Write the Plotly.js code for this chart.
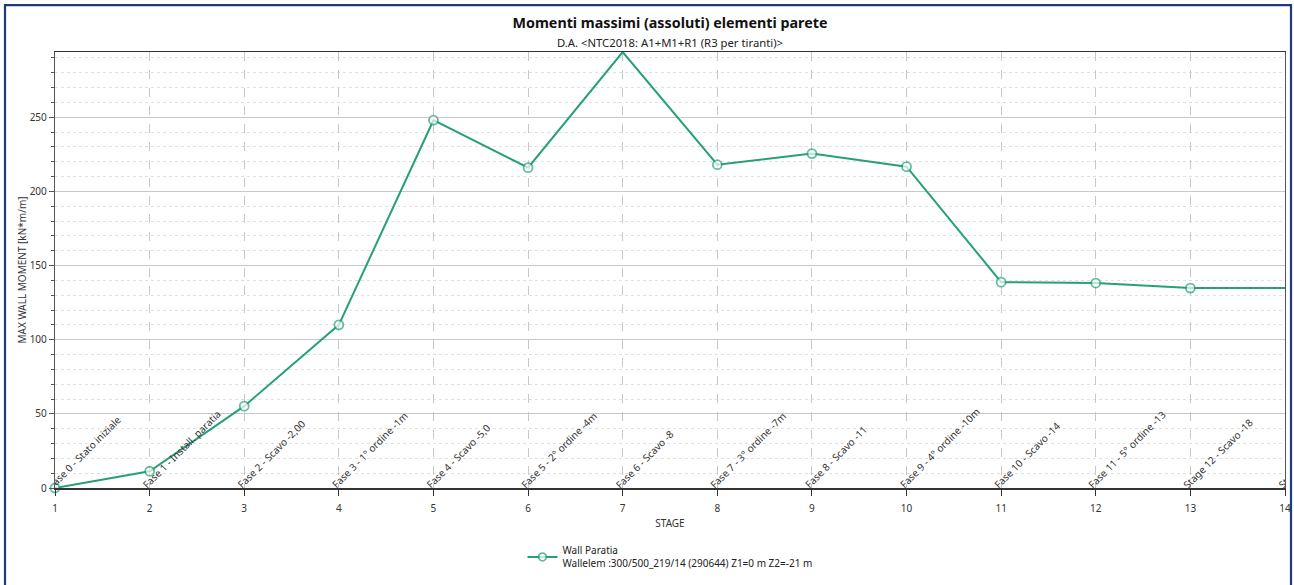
<!DOCTYPE html>
<html>
<head>
<meta charset="utf-8">
<script src="https://cdn.plot.ly/plotly-3.0.1.min.js"></script>
<style>
  html, body { margin: 0; padding: 0; background: #ffffff; }
  #chart { width: 1294px; height: 585px; }
</style>
</head>
<body>
<div id="chart"></div>
<script>
// Construction stages (x) and the maximum absolute wall moment at each stage [kN*m/m]
const stages = [1, 2, 3, 4, 5, 6, 7, 8, 9, 10, 11, 12, 13, 14];
const maxMoment = [0, 11.3, 55.2, 110, 248, 216, 294, 218, 225.5, 216.7, 138.8, 138.2, 134.8, 134.8];

// Phase description written along each stage gridline
const stageLabels = [
  'Fase 0 - Stato iniziale',
  'Fase 1 - Install. paratia',
  'Fase 2 - Scavo -2,00',
  'Fase 3 - 1° ordine -1m',
  'Fase 4 - Scavo -5,0',
  'Fase 5 - 2° ordine -4m',
  'Fase 6 - Scavo -8',
  'Fase 7 - 3° ordine -7m',
  'Fase 8 - Scavo -11',
  'Fase 9 - 4° ordine -10m',
  'Fase 10 - Scavo -14',
  'Fase 11 - 5° ordine -13',
  'Stage 12 - Scavo -18',
  'Stage 13'
];

const seriesName = 'Wall Paratia<br>Wallelem :300/500_219/14 (290644) Z1=0 m Z2=-21 m';
const chartTitle = 'Momenti massimi (assoluti) elementi parete';
const chartSubtitle = 'D.A. &lt;NTC2018: A1+M1+R1 (R3 per tiranti)&gt;';

const FONT = '"Noto Sans", "Open Sans", Arial, sans-serif';
const GREEN = '#27a07a';
const NAVY = '#1c3a7c';

const xMax = stages[stages.length - 1];
const yMax = Math.max(...maxMoment);

// Points lying on the frame edges are drawn without a marker
const markerSizes = stages.map((s, i) => (s === xMax || maxMoment[i] === yMax) ? 0 : 9);

const M = { l: 55, r: 9, t: 52, b: 92 };
const W = 1294, H = 585;
const plotW = W - M.l - M.r, plotH = H - M.t - M.b;
const px2x = px => (px - M.l) / plotW;
const px2y = py => (H - M.b - py) / plotH;

const trace = {
  type: 'scatter',
  mode: 'lines+markers',
  x: stages,
  y: maxMoment,
  name: seriesName,
  cliponaxis: false,
  line: { color: GREEN, width: 2 },
  marker: {
    symbol: 'circle',
    size: markerSizes,
    color: '#ffffff',
    line: { color: GREEN, width: 1.8 }
  },
  showlegend: true
};

const annotations = stageLabels.map((t, i) => ({
  x: stages[i], y: 0, xref: 'x', yref: 'y',
  text: t, textangle: -45,
  xanchor: 'left', yanchor: 'bottom',
  xshift: -13, yshift: -6,
  showarrow: false,
  font: { family: FONT, size: 10, color: '#333333' }
}));

const layout = {
  width: W, height: H,
  margin: M,
  paper_bgcolor: '#ffffff',
  plot_bgcolor: '#ffffff',
  font: { family: FONT, size: 10, color: '#333333' },
  title: {
    text: '<b>' + chartTitle + '</b><br><span style="font-size:11.3px;color:#222222">' + chartSubtitle + '</span>',
    font: { family: FONT, size: 14.3, color: '#111111' },
    xref: 'paper', x: 0.5, xanchor: 'center',
    yref: 'container', y: 1 - 28 / H, yanchor: 'top'
  },
  xaxis: {
    range: [1, xMax],
    dtick: 1, tick0: 1,
    showgrid: true, gridcolor: '#c8c8c8', griddash: 'dash', gridwidth: 1,
    zeroline: false,
    showline: true, linecolor: '#333333', linewidth: 1.5, mirror: true,
    ticks: 'outside', ticklen: 6, tickcolor: '#333333',
    ticklabelstandoff: 4,
    tickfont: { family: FONT, size: 10, color: '#333333' },
    title: { text: 'STAGE', font: { family: FONT, size: 10, color: '#333333' }, standoff: 6 }
  },
  yaxis: {
    range: [0, yMax],
    dtick: 50, tick0: 0,
    showgrid: true, gridcolor: '#c8c8c8', gridwidth: 1,
    zeroline: false,
    showline: true, linecolor: '#555555', linewidth: 1.2, mirror: true,
    ticks: 'outside', ticklen: 5, tickcolor: '#555555',
    tickfont: { family: FONT, size: 10, color: '#333333' },
    minor: {
      dtick: 10, showgrid: true, gridcolor: '#e0e0e0', griddash: 'dot', gridwidth: 1,
      ticks: 'outside', ticklen: 3, tickcolor: '#555555'
    },
    title: { text: 'MAX WALL MOMENT [kN*m/m]', font: { family: FONT, size: 10, color: '#333333' }, standoff: 1 }
  },
  legend: {
    orientation: 'h',
    x: 0.5, xanchor: 'center', xref: 'paper',
    y: px2y(543), yanchor: 'top',
    bgcolor: 'rgba(0,0,0,0)',
    font: { family: FONT, size: 10, color: '#222222' },
    valign: 'middle'
  },
  shapes: [{
    type: 'rect', xref: 'paper', yref: 'paper',
    x0: px2x(5), x1: px2x(1291), y0: px2y(595), y1: px2y(4.5),
    line: { color: NAVY, width: 2.2 }, fillcolor: 'rgba(0,0,0,0)', layer: 'below'
  }],
  annotations: annotations
};

const gd = document.getElementById('chart');
Plotly.newPlot(gd, [trace], layout, { displayModeBar: false, staticPlot: true }).then(() => {
  // Stage labels are cut off at the plot frame
  const sz = gd._fullLayout._size;
  const anns = gd.querySelectorAll('.annotation');
  if (!anns.length) return;
  const svg = anns[0].ownerSVGElement;
  const NS = 'http://www.w3.org/2000/svg';
  let defs = svg.querySelector('defs');
  if (!defs) { defs = document.createElementNS(NS, 'defs'); svg.insertBefore(defs, svg.firstChild); }
  const cp = document.createElementNS(NS, 'clipPath');
  cp.setAttribute('id', 'stage-label-clip');
  const r = document.createElementNS(NS, 'rect');
  r.setAttribute('x', sz.l); r.setAttribute('y', sz.t);
  r.setAttribute('width', sz.w); r.setAttribute('height', sz.h);
  cp.appendChild(r); defs.appendChild(cp);
  anns.forEach(a => a.setAttribute('clip-path', 'url(#stage-label-clip)'));
});
</script>
</body>
</html>
